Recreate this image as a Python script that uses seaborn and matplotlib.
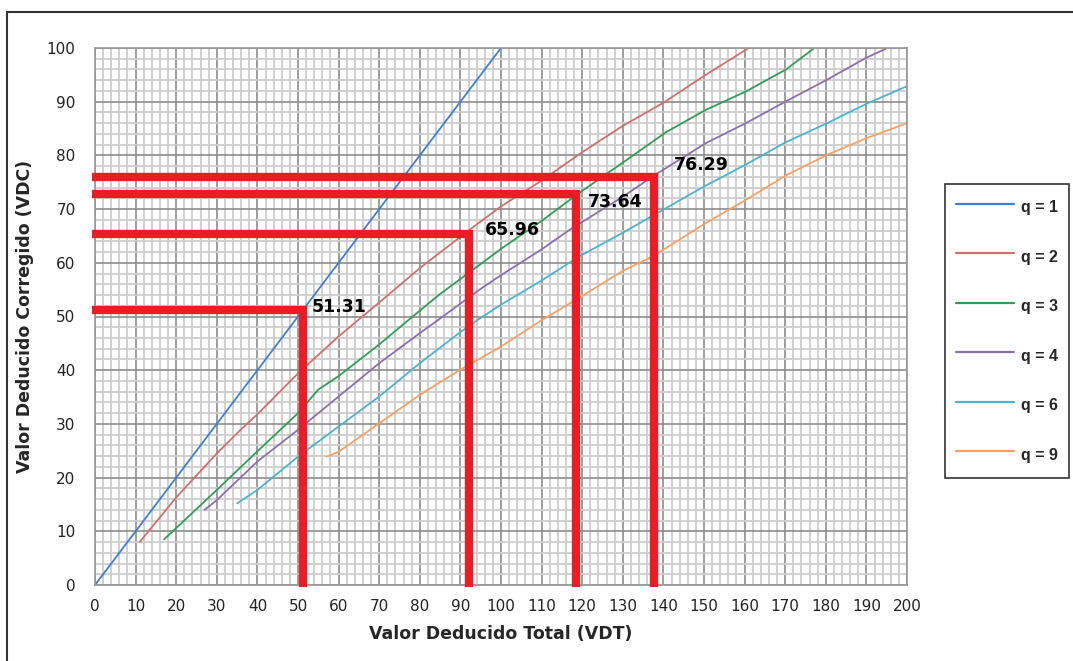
import pandas as pd
import matplotlib
matplotlib.use("Agg")
import matplotlib.pyplot as plt
from matplotlib.lines import Line2D
from matplotlib.ticker import MultipleLocator
import seaborn as sns

# curvas VDC vs VDT
q1_x = [0, 20, 40, 60, 80, 100]
q1_y = [0, 20, 40, 60, 80, 100]
q2_x = [11, 20, 30, 36, 40, 50, 60, 70, 80, 92, 100, 110, 120, 130, 140, 150, 161]
q2_y = [8, 16.3, 24.5, 29, 31.8, 39.4, 46.3, 52.6, 59, 66, 70.5, 75.3, 80.6, 85.5, 89.8, 94.8, 100]
q3_x = [17, 20, 30, 40, 50, 55, 60, 70, 77, 85, 94.7, 100, 110, 118.5, 131.6, 140.6, 150.5, 160.3, 170.2, 177.2]
q3_y = [8.5, 10.6, 17.7, 24.9, 32, 36.4, 38.9, 44.8, 49.2, 54.2, 59.6, 62.6, 67.8, 72.6, 79.5, 84.3, 88.5, 91.9, 96, 100]
q4_x = [27, 30, 40, 50, 60, 70, 80, 84.6, 94.7, 100, 110, 116.8, 130, 137.8, 150.5, 160.3, 170, 180.3, 190, 195.2]
q4_y = [14, 15.8, 23, 28.9, 35.1, 41.3, 46.9, 49.4, 55, 57.7, 62.5, 66.1, 72.3, 76.3, 82.3, 86, 90, 94.1, 98.2, 100]
q6_x = [35, 40, 50, 60, 70, 80, 90, 94.7, 100, 110, 119.3, 130, 140, 150, 160.3, 170, 180.3, 190, 200]
q6_y = [15.2, 17.7, 23.9, 29.5, 35.1, 41.3, 47.1, 49.6, 52.2, 56.7, 61.2, 65.6, 69.9, 74.2, 78.3, 82.4, 86, 89.6, 92.9]
q9_x = [57, 60, 70, 80, 90, 100, 110, 119.3, 130, 137.4, 150, 160.3, 170, 180.3, 190, 200]
q9_y = [23.9, 24.8, 30.1, 35.4, 40.1, 44.4, 49.3, 53.5, 58.5, 61.2, 67.2, 71.7, 76.2, 80.1, 83.2, 86]

q_labels = ["q = 1", "q = 2", "q = 3", "q = 4", "q = 6", "q = 9"]
q_colors = ["#3d80d2", "#d06f6c", "#2f9e55", "#8a6fae", "#4bb2cf", "#f9a062"]

# lecturas marcadas en rojo
vdt_marks = [51.3, 92.0, 118.5, 137.8]
vdc_marks = [51.3, 65.4, 72.8, 76.0]
mark_texts = ["51.31", "65.96", "73.64", "76.29"]
text_x = [53.4, 96.1, 121.4, 142.6]
text_y = [51.8, 66.1, 71.3, 78.2]

frames = []
for lab, xs, ys in zip(q_labels, [q1_x, q2_x, q3_x, q4_x, q6_x, q9_x],
                       [q1_y, q2_y, q3_y, q4_y, q6_y, q9_y]):
    frames.append(pd.DataFrame({"VDT": xs, "VDC": ys, "q": lab}))
df = pd.concat(frames, ignore_index=True)

sns.set_theme(style="white")
plt.rcParams['font.family'] = ['DejaVu Sans']

W, H = 1073, 661
fig = plt.figure(figsize=(W / 100, H / 100), dpi=100)
ax = fig.add_axes([95 / W, 1 - 585 / H, (907 - 95) / W, (585 - 48) / H])

ax.xaxis.set_major_locator(MultipleLocator(10))
ax.xaxis.set_minor_locator(MultipleLocator(2))
ax.yaxis.set_major_locator(MultipleLocator(10))
ax.yaxis.set_minor_locator(MultipleLocator(2))
ax.grid(which="minor", color="#cdcdcd", linewidth=1.3)
ax.grid(which="major", color="#8c8c8c", linewidth=1.2)
ax.set_axisbelow(True)

sns.lineplot(data=df, x="VDT", y="VDC", hue="q", palette=q_colors,
             sort=False, estimator=None, linewidth=1.3, ax=ax, legend=False)

for x, y in zip(vdt_marks, vdc_marks):
    ax.plot([-0.8, x, x], [y, y, -0.4], color="#ed1c24", linewidth=6,
            solid_joinstyle="miter", solid_capstyle="butt", clip_on=False, zorder=5)
for t, x, y in zip(mark_texts, text_x, text_y):
    ax.text(x, y, t, fontsize=12.5, fontweight="bold", color="black",
            ha="left", va="center", zorder=6)

ax.set_xlim(0, 200)
ax.set_ylim(0, 100)
for s in ax.spines.values():
    s.set_color("#9a9a9a")
ax.tick_params(which="major", direction="out", length=4, color="#8c8c8c",
               labelsize=11, labelcolor="#222222", pad=6)
ax.tick_params(axis="y", pad=10)
ax.tick_params(which="minor", length=0)
ax.set_xlabel("Valor Deducido Total (VDT)", fontsize=12.5, fontweight="bold", labelpad=8)
ax.set_ylabel("Valor Deducido Corregido (VDC)", fontsize=12.5, fontweight="bold", labelpad=9)

handles = [Line2D([0], [0], color=c, linewidth=1.6) for c in q_colors]
leg = fig.legend(handles, q_labels, loc="center left",
                 bbox_to_anchor=(945 / W, 1 - 331 / H), frameon=True,
                 fancybox=False, edgecolor="black",
                 prop={"family": "Liberation Sans", "weight": "bold", "size": 11.5},
                 handlelength=3.6, handleheight=2.0, labelspacing=1.55,
                 borderpad=0.7, handletextpad=0.45, borderaxespad=0)
leg.get_frame().set_linewidth(1.2)

# marco exterior del grafico
fig.add_artist(Line2D([7 / W, 7 / W], [0, 1 - 12 / H], color="#333333", linewidth=1.5))
fig.add_artist(Line2D([7 / W, 1], [1 - 12 / H, 1 - 12 / H], color="#333333", linewidth=1.5))

fig.savefig("out.png", dpi=100)
